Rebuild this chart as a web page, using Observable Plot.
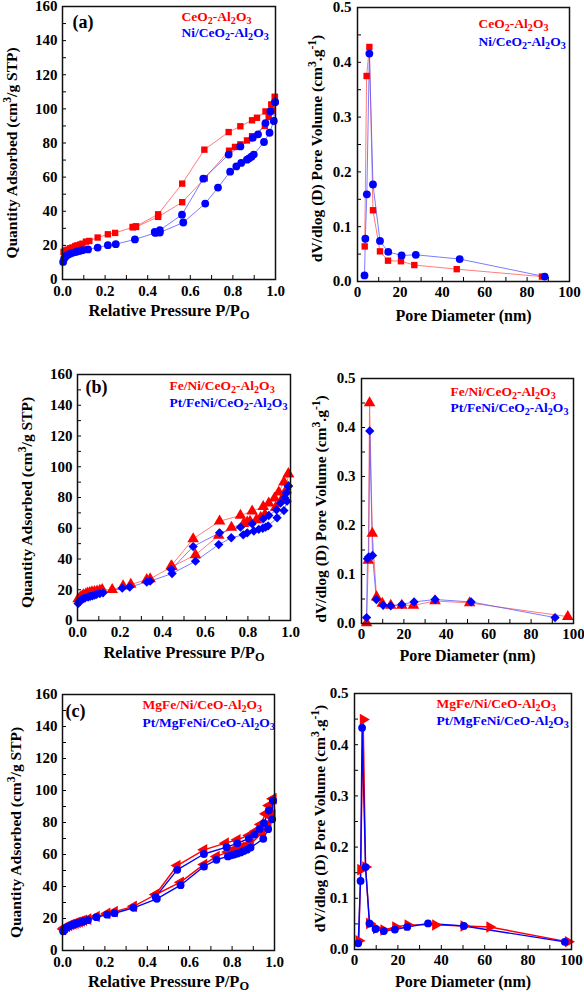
<!DOCTYPE html>
<html><head><meta charset="utf-8">
<script src="https://cdn.jsdelivr.net/npm/d3@7"></script>
<script src="https://cdn.jsdelivr.net/npm/@observablehq/plot@0.6"></script>
<style>
html,body{margin:0;padding:0;background:#fff;}
#chart{position:relative;width:584px;height:992px;overflow:hidden;background:#fff;}
#chart svg{position:absolute;overflow:visible;background:transparent !important;}
</style></head><body><div id="chart"></div>
<script>
// ---------- tick values ----------
const isoXTicks = [0, 0.2, 0.4, 0.6, 0.8, 1.0];
const isoXMinor = [0, 0.1, 0.2, 0.3, 0.4, 0.5, 0.6, 0.7, 0.8, 0.9, 1.0];
const isoYTicks = [0, 20, 40, 60, 80, 100, 120, 140, 160];
const isoYMinor = [10, 20, 30, 40, 50, 60, 70, 80, 90, 100, 110, 120, 130, 140, 150];
const psdXTicks = [0, 20, 40, 60, 80, 100];
const psdXMinor = [10, 20, 30, 40, 50, 60, 70, 80, 90];
const psdYTicks = [0, 0.1, 0.2, 0.3, 0.4, 0.5];
const psdYMinor = [0.05, 0.1, 0.15, 0.2, 0.25, 0.3, 0.35, 0.4, 0.45];

// ---------- series names ----------
const namesA = ["CeO₂-Al₂O₃", "Ni/CeO₂-Al₂O₃"];
const namesB = ["Fe/Ni/CeO₂-Al₂O₃", "Pt/FeNi/CeO₂-Al₂O₃"];
const namesC = ["MgFe/Ni/CeO-Al₂O₃", "Pt/MgFeNi/CeO-Al₂O₃"];

// ---------- (a) isotherms [P/P0, quantity] ----------
const redA_ads = [[0.005,16.2],[0.012,17],[0.024,17.5],[0.035,18.3],[0.047,18.8],[0.06,19.6],[0.07,20],[0.083,20.5],[0.094,21],[0.11,22.2],[0.126,22.6],[0.165,24.6],[0.213,26.5],[0.247,27.3],[0.33,30.6],[0.345,30.8],[0.449,36.7],[0.562,45.3],[0.668,59.3],[0.782,75.5],[0.81,77.7],[0.835,79.2],[0.866,81.5],[0.89,84],[0.95,90],[0.968,95.2],[0.984,99],[0.997,107]];
const redA_des = [[0.997,107],[0.98,102.6],[0.953,98.5],[0.913,94.8],[0.89,93.3],[0.835,89.8],[0.78,86.4],[0.666,76.1],[0.562,56.2],[0.449,38.2],[0.345,31.2],[0.33,30.8]];
const blueA_ads = [[0.003,10.3],[0.008,12.3],[0.015,13.5],[0.025,14.5],[0.035,15],[0.047,15.6],[0.06,16],[0.07,16.4],[0.083,16.8],[0.094,17.2],[0.12,17.6],[0.165,18.7],[0.213,20.1],[0.25,20.7],[0.34,23.5],[0.436,27.3],[0.457,27.5],[0.567,33.4],[0.67,44.5],[0.73,53.9],[0.787,63.2],[0.816,66.3],[0.839,68.3],[0.866,70.2],[0.876,71],[0.887,72],[0.898,73.2],[0.946,80.6],[0.972,86],[0.992,92.9],[0.998,104]];
const blueA_des = [[0.998,104],[0.976,98.5],[0.953,91.7],[0.918,85.1],[0.893,83],[0.835,78],[0.78,73.2],[0.661,59.1],[0.561,38],[0.457,28.9],[0.433,27.9]];

// ---------- (a) pore size distribution [nm, dV/dlogD] ----------
const redA_psd = [[3.4,0.064],[4.3,0.375],[5.6,0.428],[7.3,0.130],[10.6,0.055],[14.4,0.038],[20.5,0.037],[26.8,0.030],[46.8,0.0225],[87.0,0.009]];
const blueA_psd = [[3.3,0.011],[3.7,0.078],[4.4,0.159],[5.6,0.416],[7.3,0.177],[10.6,0.074],[14.5,0.054],[20.8,0.0475],[27.5,0.0487],[48.2,0.041],[88.3,0.009]];

// ---------- (b) isotherms ----------
const redB_ads = [[0.003,14],[0.013,15.2],[0.022,16],[0.029,16.7],[0.04,17.3],[0.048,17.8],[0.058,18.1],[0.068,18.5],[0.08,18.8],[0.092,19.1],[0.105,19.5],[0.116,20],[0.163,20],[0.214,22.4],[0.25,23.4],[0.325,26.5],[0.341,27.1],[0.444,35],[0.554,42.7],[0.663,55.3],[0.723,60.5],[0.78,63],[0.797,63.9],[0.81,64.5],[0.84,65.5],[0.86,67],[0.88,69],[0.93,73.5],[0.96,79],[0.98,85],[0.99,95.4]];
const redB_des = [[0.99,95.4],[0.969,90],[0.945,83.5],[0.925,79.6],[0.898,76.3],[0.872,74.1],[0.82,71.1],[0.765,68.3],[0.667,64.6],[0.543,53.1],[0.44,35.5]];
const blueB_ads = [[0.003,11],[0.008,12.3],[0.015,13.2],[0.025,14],[0.035,14.6],[0.05,15.3],[0.06,15.7],[0.07,16],[0.08,16.5],[0.09,17],[0.105,17.5],[0.12,18],[0.21,21],[0.245,21.8],[0.325,25],[0.341,25.6],[0.444,30.5],[0.554,38.6],[0.663,49.4],[0.722,53.8],[0.778,55.7],[0.797,57],[0.828,58.2],[0.851,59.3],[0.87,60],[0.883,60.7],[0.895,61.5],[0.937,66.8],[0.969,71.5],[0.984,77.6],[0.99,87.5]];
const blueB_des = [[0.99,87.5],[0.981,83],[0.972,80],[0.953,76.3],[0.934,72],[0.898,68.3],[0.872,66.1],[0.82,62.9],[0.765,60.7],[0.667,57],[0.543,48.1],[0.44,33.2]];

// ---------- (b) pore size distribution ----------
const redB_psd = [[2.4,0.001],[3.2,0.129],[3.8,0.450],[5.1,0.184],[7.1,0.054],[9.8,0.041],[13.8,0.037],[19.0,0.037],[24.5,0.037],[34.7,0.046],[51.0,0.042],[97.3,0.014]];
const blueB_psd = [[2.4,0.012],[2.8,0.132],[3.4,0.136],[3.9,0.393],[5.2,0.139],[7.0,0.049],[10.2,0.037],[13.8,0.036],[19.0,0.039],[24.8,0.044],[34.7,0.049],[51.7,0.044],[91.3,0.012]];

// ---------- (c) isotherms ----------
const redC_ads = [[0.003,13.5],[0.01,14.3],[0.02,15],[0.03,15.6],[0.04,16.2],[0.05,16.6],[0.06,17.1],[0.07,17.6],[0.08,18],[0.09,18.4],[0.1,18.9],[0.12,19.6],[0.16,21.3],[0.21,23.2],[0.245,24.3],[0.335,27.6],[0.44,35],[0.557,42.7],[0.667,53.8],[0.726,58.8],[0.78,61.5],[0.795,62.1],[0.809,62.7],[0.825,63.5],[0.84,64.3],[0.855,65],[0.87,65.8],[0.887,66.5],[0.94,73.5],[0.97,79],[0.989,85],[0.993,94.8]];
const redC_des = [[0.993,94.8],[0.973,90.6],[0.958,85.4],[0.934,78.8],[0.91,74.6],[0.879,71.9],[0.824,69.2],[0.769,67.1],[0.667,62.9],[0.541,53.1],[0.439,35]];
const blueC_ads = [[0.003,12],[0.008,13],[0.015,14],[0.025,14.8],[0.035,15.4],[0.045,15.9],[0.055,16.4],[0.065,16.9],[0.075,17.3],[0.085,17.7],[0.1,18.3],[0.12,19],[0.16,20.8],[0.21,22.4],[0.245,23.3],[0.335,26.7],[0.445,32.3],[0.557,40.8],[0.667,52.5],[0.726,56.7],[0.78,58.8],[0.795,59.5],[0.81,60],[0.825,60.6],[0.84,61.3],[0.855,62.2],[0.87,63],[0.887,64.3],[0.947,69.8],[0.97,75.8],[0.989,82],[0.993,93.7]];
const blueC_des = [[0.993,93.7],[0.973,87.5],[0.95,79.6],[0.93,76],[0.905,72.5],[0.879,70],[0.824,67],[0.774,64.6],[0.667,60.3],[0.541,50.4],[0.439,33.5]];

// ---------- (c) pore size distribution ----------
const redC_psd = [[2.0,0.017],[2.8,0.156],[4.0,0.449],[5.1,0.161],[6.9,0.051],[10.1,0.041],[13.5,0.038],[18.9,0.044],[24.6,0.048],[37.3,0.048],[50.4,0.046],[62.3,0.044],[98.5,0.015]];
const blueC_psd = [[1.7,0.012],[2.8,0.134],[3.5,0.433],[5.1,0.161],[6.9,0.051],[9.7,0.040],[13.5,0.036],[18.6,0.039],[24.3,0.044],[33.9,0.051],[50.4,0.046],[96.9,0.015]];

// ---------- styling / layout ----------
const RED = "#ff0000", BLUE = "#0000ff";
const FONT = "'Liberation Serif','DejaVu Serif',serif";
const isoXTitle = "Relative Pressure P/Pₒ";
const isoYTitle = "Quantity Adsorbed (cm³/g STP)";
const psdXTitle = "Pore Diameter (nm)";
const psdYTitle = "dV/dlog (D) Pore Volume (cm³.g⁻¹)";

const fmt1 = d3.format(".1f"), fmt0 = d3.format("d");

function isoCfg(o){ return Object.assign({xDomain:[0,1], yDomain:[0,160], xTicks:isoXTicks, xMinor:isoXMinor, yTicks:isoYTicks, yMinor:isoYMinor, xFmt:fmt1, yFmt:fmt0, xTitle:isoXTitle, yTitle:isoYTitle, xtSize:16.5}, o); }
function psdCfg(o){ return Object.assign({xDomain:[0,100], yDomain:[0,0.5], xTicks:psdXTicks, xMinor:psdXMinor, yTicks:psdYTicks, yMinor:psdYMinor, xFmt:fmt0, yFmt:fmt1, xTitle:psdXTitle, yTitle:psdYTitle, xtSize:16}, o); }

const panels = [
  isoCfg({left:0, top:0, width:292, height:330, ml:62, mr:17, mt:6, mb:51, xPad:6, yPad:5, xtDy:31, ytDx:-50, ytDy:10,
    tag:"(a)", tagDx:10, tagDy:16, legDx:119, legDy:[10,26], names:namesA,
    series:[{data:[redA_ads, redA_des], symbol:"square", r:3.6, fill:RED, line:"#ff5a5a", lw:0.8},
            {data:[blueA_ads, blueA_des], symbol:"circle", r:3.9, fill:BLUE, line:"#5a5aff", lw:0.8}]}),
  psdCfg({left:292, top:0, width:292, height:330, ml:65, mr:15, mt:7, mb:49, xPad:5, yPad:6, xtDy:34, ytDx:-40, ytDy:4,
    legDx:121, legDy:[16,34], names:namesA,
    series:[{data:[redA_psd], symbol:"square", r:3.6, fill:RED, line:"#ff5a5a", lw:0.8},
            {data:[blueA_psd], symbol:"circle", r:3.9, fill:BLUE, line:"#5a5aff", lw:0.8}]}),
  isoCfg({left:0, top:330, width:292, height:330, ml:77, mr:2, mt:44, mb:40, xPad:6, yPad:5, xtDy:32, ytDx:-50, ytDy:5,
    tag:"(b)", tagDx:8, tagDy:13, legDx:92, legDy:[11,28], names:namesB,
    series:[{data:[redB_ads, redB_des], symbol:"triangle", r:4.3, fill:RED, line:"#ff5a5a", lw:0.8},
            {data:[blueB_ads, blueB_des], symbol:"diamond2", r:4.2, fill:BLUE, line:"#5a5aff", lw:0.8}]}),
  psdCfg({left:292, top:330, width:292, height:330, ml:69, mr:11, mt:48, mb:37, xPad:5, yPad:6, xtDy:32, ytDx:-40, ytDy:8,
    legDx:89, legDy:[13,29], names:namesB,
    series:[{data:[redB_psd], symbol:"triangle", r:4.3, fill:RED, line:"#ff5a5a", lw:0.8},
            {data:[blueB_psd], symbol:"diamond2", r:4.2, fill:BLUE, line:"#5a5aff", lw:0.8}]}),
  isoCfg({left:0, top:660, width:292, height:332, ml:62, mr:18, mt:34, mb:42, xPad:6, yPad:5, xtDy:31, ytDx:-46, ytDy:10,
    tag:"(c)", tagDx:3, tagDy:17, legDx:80, legDy:[10,28], names:namesC,
    series:[{data:[redC_ads, redC_des], symbol:"triangle", rotate:-90, r:4.3, fill:RED, line:RED, lw:1.4},
            {data:[blueC_ads, blueC_des], symbol:"circle", r:3.9, fill:BLUE, line:BLUE, lw:1.4}]}),
  psdCfg({left:292, top:660, width:292, height:332, ml:62, mr:13, mt:33, mb:43, xPad:5, yPad:6, xtDy:32, ytDx:-34, ytDy:-3,
    legDx:82, legDy:[10,27], names:namesC,
    series:[{data:[redC_psd], symbol:"triangle", rotate:90, r:4.3, fill:RED, line:RED, lw:1.4},
            {data:[blueC_psd], symbol:"circle", r:3.9, fill:BLUE, line:BLUE, lw:1.4}]})
];

// turn unicode sub/superscripts into tspans
const SUB = {"₂":"2","₃":"3","ₒ":"O"};
const SUP = {"³":"3","⁻":"-","¹":"1"};
function richify(svg){
  svg.querySelectorAll("text").forEach(t => {
    if (t.querySelector("tspan")) return;
    const s = t.textContent;
    if (![...s].some(c => SUB[c] || SUP[c])) return;
    t.textContent = "";
    const runs = [];
    for (const c of s) {
      const mode = SUB[c] ? "sub" : SUP[c] ? "super" : "n";
      const ch = SUB[c] || SUP[c] || c;
      if (runs.length && runs[runs.length-1].mode === mode) runs[runs.length-1].txt += ch;
      else runs.push({mode, txt: ch});
    }
    for (const r of runs) {
      const ts = document.createElementNS("http://www.w3.org/2000/svg", "tspan");
      ts.textContent = r.txt;
      if (r.mode !== "n") {
        ts.setAttribute("font-size", "75%");
        ts.setAttribute("baseline-shift", r.mode === "sub" ? "-0.25em" : "0.55em");
      }
      t.appendChild(ts);
    }
  });
}

const root = document.getElementById("chart");
for (const p of panels) {
  const iw = p.width - p.ml - p.mr, ih = p.height - p.mt - p.mb;
  const marks = [
    Plot.tickX(p.xMinor, {x: d => d, insetTop: ih - 4, stroke: "black", strokeWidth: 1}),
    Plot.tickY(p.yMinor, {y: d => d, insetRight: iw - 4, stroke: "black", strokeWidth: 1}),
    Plot.axisX({ticks: p.xTicks, tickSize: 0, tickPadding: p.xPad, tickFormat: p.xFmt, label: null, fontSize: 15, fontWeight: "bold"}),
    Plot.axisY({ticks: p.yTicks, tickSize: 0, tickPadding: p.yPad, tickFormat: p.yFmt, label: null, fontSize: 15, fontWeight: "bold"})
  ];
  for (const s of p.series) for (const d of s.data)
    marks.push(Plot.line(d, {x: v => v[0], y: v => v[1], stroke: s.line, strokeWidth: s.lw}));
  for (const s of p.series) for (const d of s.data)
    marks.push(Plot.dot(d, {x: v => v[0], y: v => v[1], symbol: s.symbol, r: s.r, fill: s.fill, stroke: "none", rotate: s.rotate || 0}));
  marks.push(Plot.frame({stroke: "#111", strokeWidth: 1.5}));
  marks.push(Plot.text([p.xTitle], {text: d => d, frameAnchor: "bottom", dy: p.xtDy, textAnchor: "middle", fontSize: p.xtSize, fontWeight: "bold", lineAnchor: "middle"}));
  marks.push(Plot.text([p.yTitle], {text: d => d, frameAnchor: "left", dx: p.ytDx, dy: p.ytDy, rotate: -90, textAnchor: "middle", fontSize: 15.5, fontWeight: "bold", lineAnchor: "middle"}));
  if (p.tag) marks.push(Plot.text([p.tag], {text: d => d, frameAnchor: "top-left", dx: p.tagDx, dy: p.tagDy, textAnchor: "start", lineAnchor: "middle", fontSize: 18, fontWeight: "bold"}));
  p.names.forEach((n, i) => marks.push(Plot.text([n], {text: d => d, frameAnchor: "top-left", dx: p.legDx, dy: p.legDy[i], textAnchor: "start", lineAnchor: "middle", fontSize: 13.5, fontWeight: "bold", fill: i ? BLUE : RED})));

  const svg = Plot.plot({
    width: p.width, height: p.height,
    marginLeft: p.ml, marginRight: p.mr, marginTop: p.mt, marginBottom: p.mb,
    x: {domain: p.xDomain}, y: {domain: p.yDomain},
    style: {fontFamily: FONT, fontSize: "14px", color: "black", background: "transparent", overflow: "visible"},
    marks
  });
  richify(svg);
  svg.style.left = p.left + "px";
  svg.style.top = p.top + "px";
  root.appendChild(svg);
}
</script></body></html>
